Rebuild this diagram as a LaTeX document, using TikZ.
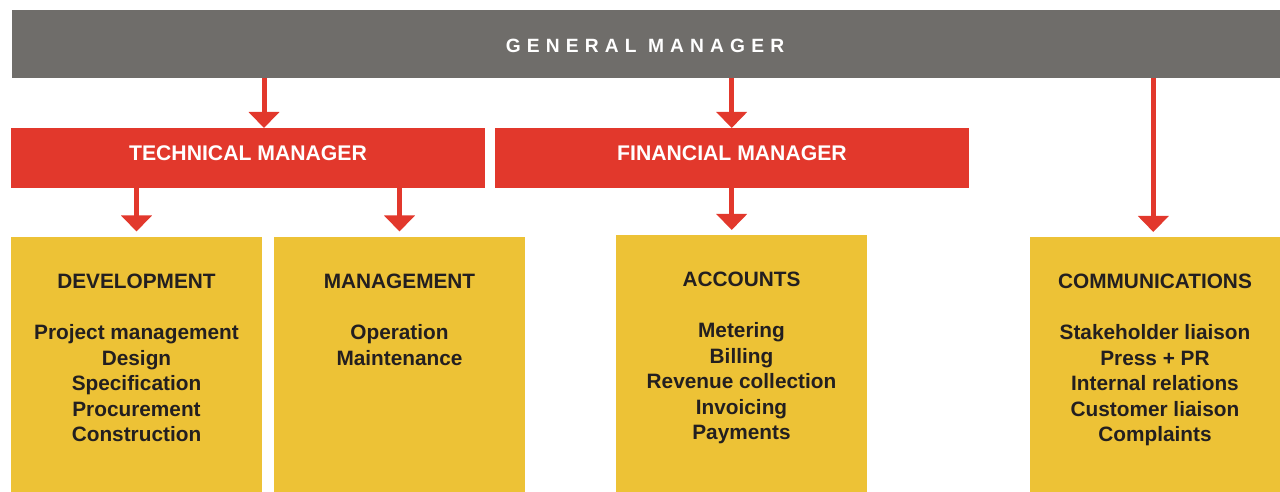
\documentclass[tikz,border=0pt]{standalone}
\usepackage{fontspec}
\setmainfont{Liberation Sans}
\usetikzlibrary{arrows.meta}
\definecolor{gmgray}{HTML}{6F6D6A}
\definecolor{mred}{HTML}{E2382C}
\definecolor{dyellow}{HTML}{EDC236}
\definecolor{dtext}{HTML}{231F20}
\begin{document}
\begin{tikzpicture}[x=1bp,y=-1bp,
  boxbase/.style={inner sep=0pt, outer sep=0pt, anchor=north west},
  gmbox/.style={boxbase, fill=gmgray},
  mgrbox/.style={boxbase, fill=mred, minimum width=474bp, minimum height=60bp},
  deptbox/.style={boxbase, fill=dyellow, minimum width=251bp, minimum height=257bp},
  gmtext/.style={inner sep=0pt, anchor=base, text=white,
    font=\fontsize{19.2bp}{22bp}\selectfont\bfseries\addfontfeature{LetterSpace=32}},
  mgrtext/.style={inner sep=0pt, anchor=base, text=white,
    font=\fontsize{21.2bp}{25bp}\selectfont\bfseries},
  depttext/.style={inner sep=0pt, anchor=base, text=dtext, align=center,
    font=\fontsize{20.8bp}{25.4bp}\selectfont\bfseries},
  arr/.style={draw=mred, line width=5bp, -{Triangle[width=30bp,length=16bp]}}
]
\useasboundingbox (0,0) rectangle (1280,492);
% boxes
\node[gmbox, minimum width=1268bp, minimum height=68bp] (gm) at (12,10) {};
\node[mgrbox] (tm) at (11,128) {};
\node[mgrbox] (fm) at (495,128) {};
\node[deptbox] (dev) at (11,237) {};
\node[deptbox] (mgt) at (274,237) {};
\node[deptbox] (acc) at (616,235) {};
\node[deptbox] (com) at (1030,237) {};
% texts (anchor base = baseline of the last line)
\node[gmtext] (gml) at (645,53) {GENERAL MANAGER};
\node[mgrtext] (tml) at (248,161) {TECHNICAL MANAGER};
\node[mgrtext] (fml) at (732,161) {FINANCIAL MANAGER};
\node[depttext] (devl) at (136.5,441.4) {DEVELOPMENT\\[25.4bp]Project management\\Design\\Specification\\Procurement\\Construction};
\node[depttext] (mgtl) at (399.5,365.2) {MANAGEMENT\\[25.4bp]Operation\\Maintenance};
\node[depttext] (accl) at (741.5,439.4) {ACCOUNTS\\[25.4bp]Metering\\Billing\\Revenue collection\\Invoicing\\Payments};
\node[depttext] (coml) at (1155,441.4) {COMMUNICATIONS\\[25.4bp]Stakeholder liaison\\Press + PR\\Internal relations\\Customer liaison\\Complaints};
% connectors
\draw[arr] (gm.south -| 264,0) -- (tm.north -| 264,0);
\draw[arr] (gm.south -| 731.7,0) -- (fm.north -| 731.7,0);
\draw[arr, shorten >=5bp] (gm.south -| 1153.3,0) -- (com.north -| 1153.3,0);
\draw[arr, shorten >=5.5bp] (tm.south -| 136.5,0) -- (dev.north -| 136.5,0);
\draw[arr, shorten >=5.5bp] (tm.south -| 399.5,0) -- (mgt.north -| 399.5,0);
\draw[arr, shorten >=5bp] (fm.south -| 731.7,0) -- (acc.north -| 731.7,0);
\end{tikzpicture}
\end{document}
